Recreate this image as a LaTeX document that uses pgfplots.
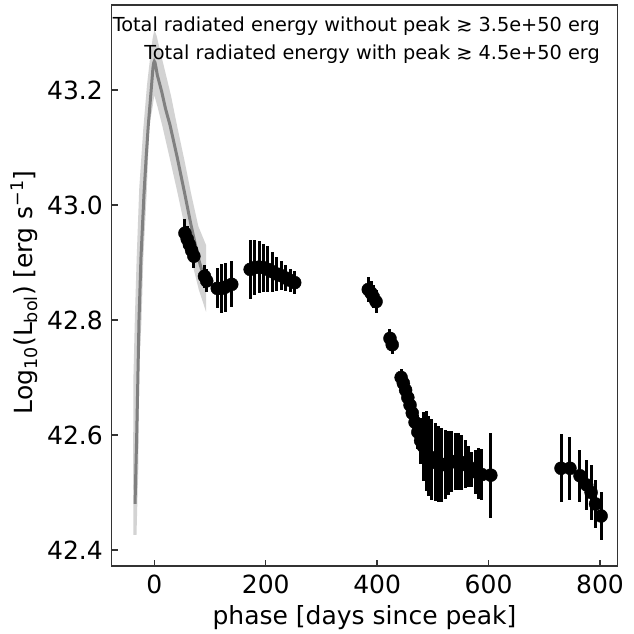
\documentclass[border=0pt]{standalone}
\usepackage{pgfplots}
\pgfplotsset{compat=1.18}
\usepackage{fontspec}
\setmainfont{DejaVu Sans}
\definecolor{bandgray}{RGB}{211,211,211}
\definecolor{linegray}{RGB}{128,128,128}

\pgfplotstableread{
x y
-34.6 42.480
-33.0 42.545
-31.6 42.600
-29.5 42.700
-27.5 42.800
-23.9 42.910
-18.5 43.020
-14.5 43.085
-10.8 43.139
-5.9 43.197
-2.5 43.238
-1.2 43.247
0.0 43.250
1.2 43.248
2.5 43.242
5.4 43.226
13.3 43.197
20.0 43.168
28.2 43.139
41.3 43.082
53.9 43.023
65.9 42.965
79.0 42.908
91.0 42.866
}\modeltab

\pgfplotstableread{
x y
-37.5 42.426
-38.0 42.550
-37.5 42.700
-35.0 42.800
-31.6 42.910
-27.0 43.030
-20.0 43.130
-13.0 43.210
-7.7 43.255
-3.0 43.290
0.0 43.304
4.0 43.295
10.0 43.270
20.0 43.230
30.0 43.190
41.0 43.137
54.0 43.078
66.0 43.020
79.0 42.963
93.0 42.930
93.0 42.814
80.0 42.852
66.0 42.907
54.0 42.965
41.0 43.024
28.0 43.080
15.0 43.135
6.0 43.170
0.0 43.191
-4.0 43.165
-9.0 43.139
-13.6 43.023
-19.7 42.908
-23.0 42.800
-27.0 42.719
-28.7 42.545
-32.0 42.426
}\bandtab

\pgfplotstableread{
x y e
55 42.951 0.024
59 42.941 0.022
63 42.931 0.020
67 42.921 0.020
71 42.911 0.020
90 42.876 0.020
94 42.868 0.020
113 42.855 0.035
120 42.855 0.042
127 42.857 0.043
139 42.862 0.040
172 42.888 0.052
180 42.891 0.048
188 42.892 0.045
196 42.891 0.042
204 42.888 0.040
212 42.884 0.035
220 42.880 0.030
228 42.877 0.025
236 42.873 0.022
244 42.869 0.020
252 42.865 0.020
384 42.853 0.022
389 42.847 0.020
393 42.840 0.020
398 42.832 0.020
423 42.768 0.016
427 42.757 0.016
443 42.700 0.015
447 42.690 0.015
451 42.678 0.017
455 42.665 0.020
459 42.652 0.020
463 42.638 0.022
468 42.622 0.025
473 42.605 0.030
478 42.590 0.040
483 42.580 0.060
488 42.572 0.070
493 42.563 0.070
498 42.557 0.070
504 42.553 0.068
510 42.549 0.066
516 42.548 0.064
522 42.549 0.060
528 42.551 0.056
534 42.553 0.053
540 42.554 0.050
546 42.554 0.050
552 42.552 0.048
558 42.549 0.042
564 42.545 0.035
570 42.540 0.030
576 42.536 0.038
582 42.533 0.045
588 42.531 0.045
604 42.530 0.074
730 42.542 0.059
746 42.542 0.055
764 42.529 0.045
776 42.513 0.043
784 42.500 0.048
792 42.480 0.042
802 42.459 0.042
}\datatab

\begin{document}
\begin{tikzpicture}
\useasboundingbox (-111.7pt,-68pt) rectangle (521.3pt,566pt);
\begin{axis}[
  at={(0,0)}, anchor=south west,
  width=505.6pt, height=561pt, scale only axis,
  xmin=-76.5, xmax=831, ymin=42.372, ymax=43.348,
  xtick={0,200,400,600,800},
  xticklabels={0,200,400,600,800},
  ytick={42.4,42.6,42.8,43.0,43.2},
  yticklabels={42.4,42.6,42.8,43.0,43.2},
  xtick pos=left, ytick pos=left,
  tick align=inside,
  major tick length=6pt,
  every tick/.style={black!80, line width=1.5pt},
  axis line style={black!80, line width=1.5pt},
  tick label style={font=\fontsize{25}{30}\selectfont},
  xticklabel style={anchor=base, yshift=-27pt},
  yticklabel style={anchor=east, inner sep=0pt, xshift=-8.7pt},
  label style={font=\fontsize{25}{30}\selectfont},
  xlabel={phase [days since peak]},
  ylabel={Log\textsubscript{10}(L\textsubscript{bol}) [erg s\textsuperscript{−1}]},
  xlabel style={at={(axis description cs:0.5,0)}, anchor=base, yshift=-58pt},
  ylabel style={at={(axis description cs:-0.1557,0.488)}, anchor=base, rotate=0},
]
\addplot[fill=bandgray, draw=none, no marks] table[x=x, y=y] {\bandtab};
\addplot[linegray, line width=3pt, no marks] table[x=x, y=y] {\modeltab};
\addplot[only marks, mark=*, mark size=6.5pt, black,
  mark options={fill=black, draw=black},
  error bars/.cd, y dir=both, y explicit, error mark=none,
  error bar style={line width=3pt, black}]
  table[x=x, y=y, y error=e] {\datatab};
\node[anchor=base east, inner sep=0pt, font=\fontsize{19.3}{23}\selectfont]
  at (rel axis cs:0.9658,0.9524) {Total radiated energy without peak ≳ 3.5e+50 erg};
\node[anchor=base east, inner sep=0pt, font=\fontsize{19.3}{23}\selectfont]
  at (rel axis cs:0.9658,0.902) {Total radiated energy with peak ≳ 4.5e+50 erg};
\end{axis}
\end{tikzpicture}
\end{document}
